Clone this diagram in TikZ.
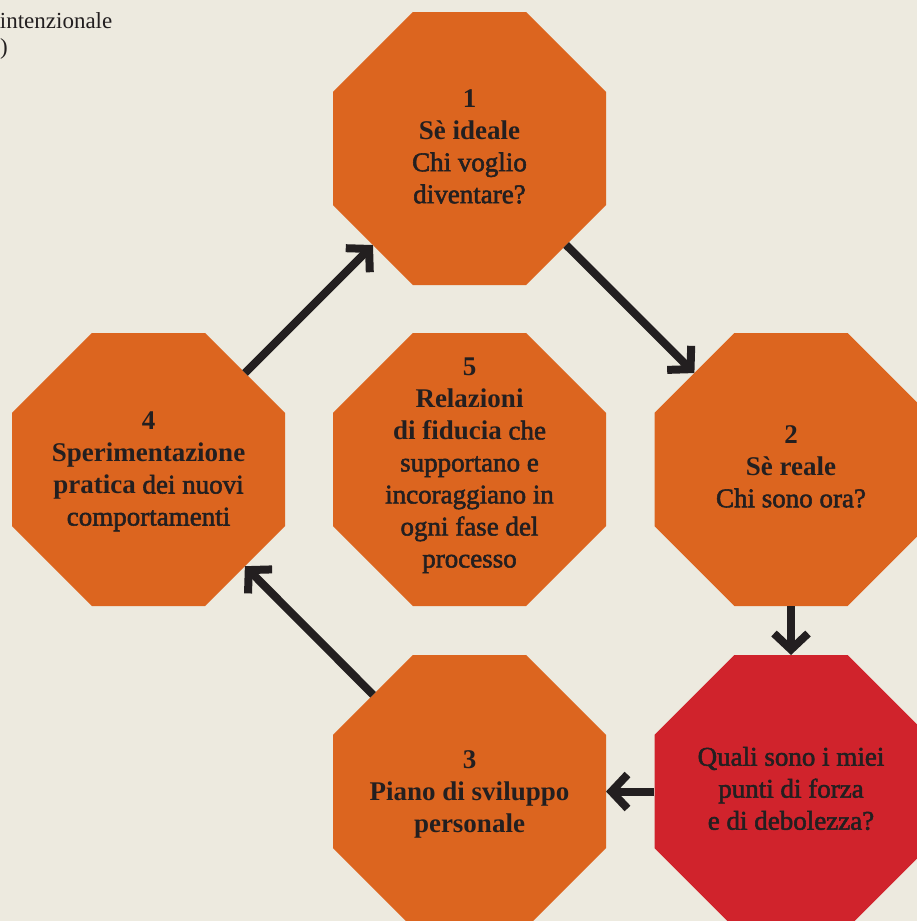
\documentclass[tikz,border=0pt]{standalone}
\usepackage{fontspec}
\setmainfont{Liberation Serif}
\newfontfamily\semib{Liberation Serif}[FakeBold=2]
\usetikzlibrary{shapes.geometric,arrows.meta}
\definecolor{bg}{HTML}{EDEADF}
\definecolor{octorange}{HTML}{DC651F}
\definecolor{octred}{HTML}{D0232C}
\definecolor{ink}{HTML}{231F20}
\newcommand\bd[1]{{\rmfamily\bfseries #1}}
\tikzset{
  octa/.style={regular polygon, regular polygon sides=8, minimum size=295.5pt,
    inner sep=0pt, outer sep=0pt, draw=none, fill=octorange},
  octared/.style={octa, fill=octred},
  txt/.style={text=ink, align=center, inner sep=0pt,
    font=\semib\fontsize{27}{32}\selectfont},
  capt/.style={text=ink, inner sep=0pt, font=\fontsize{23}{26}\selectfont},
  flow/.style={draw=ink, line width=8pt, line cap=butt,
    -{Straight Barb[length=16pt,width=34pt,line cap=butt,line join=miter]}}
}
\begin{document}
\begin{tikzpicture}[x=1pt,y=-1pt]
\useasboundingbox (0,0) rectangle (917,921);
\fill[bg] (0,0) rectangle (917,921);
\clip (0,0) rectangle (917,921);

\node[capt, anchor=base east] (c1) at (112.5,28) {intenzionale};
\node[capt, anchor=base east] (c2) at (8,54) {e)};

\node[octa] (n1) at (469.5,148.5) {};
\node[octa] (n2) at (791,469.5) {};
\node[octa] (n3) at (469.5,791.5) {};
\node[octa] (n4) at (148.5,469.5) {};
\node[octa] (n5) at (469.5,469.5) {};
\node[octared] (nq) at (791,791.5) {};

\node[txt] (t1) at ([yshift=2pt]n1.center) {\bd{1}\\ \bd{Sè ideale}\\ Chi voglio\\ diventare?};
\node[txt] (t2) at ([yshift=3pt]n2.center) {\bd{2}\\ \bd{Sè reale}\\ Chi sono ora?};
\node[txt] (t3) at ([yshift=-3pt]n3.center) {\bd{3}\\ \bd{Piano di sviluppo}\\ \bd{personale}};
\node[txt] (t4) at ([yshift=-2pt]n4.center) {\bd{4}\\ \bd{Sperimentazione}\\ \bd{pratica} dei nuovi\\ comportamenti};
\node[txt] (t5) at ([yshift=4pt]n5.center) {\bd{5}\\ \bd{Relazioni}\\ \bd{di fiducia} che\\ supportano e\\ incoraggiano in\\ ogni fase del\\ processo};
\node[txt] (tq) at ([yshift=3pt]nq.center) {Quali sono i miei\\ punti di forza\\ e di debolezza?};

\draw[flow] (n4) -- (n1);
\draw[flow] (n1) -- (n2);
\draw[flow] (n2) -- (nq);
\draw[flow] (nq) -- (n3);
\draw[flow] (n3) -- (n4);
\end{tikzpicture}
\end{document}
